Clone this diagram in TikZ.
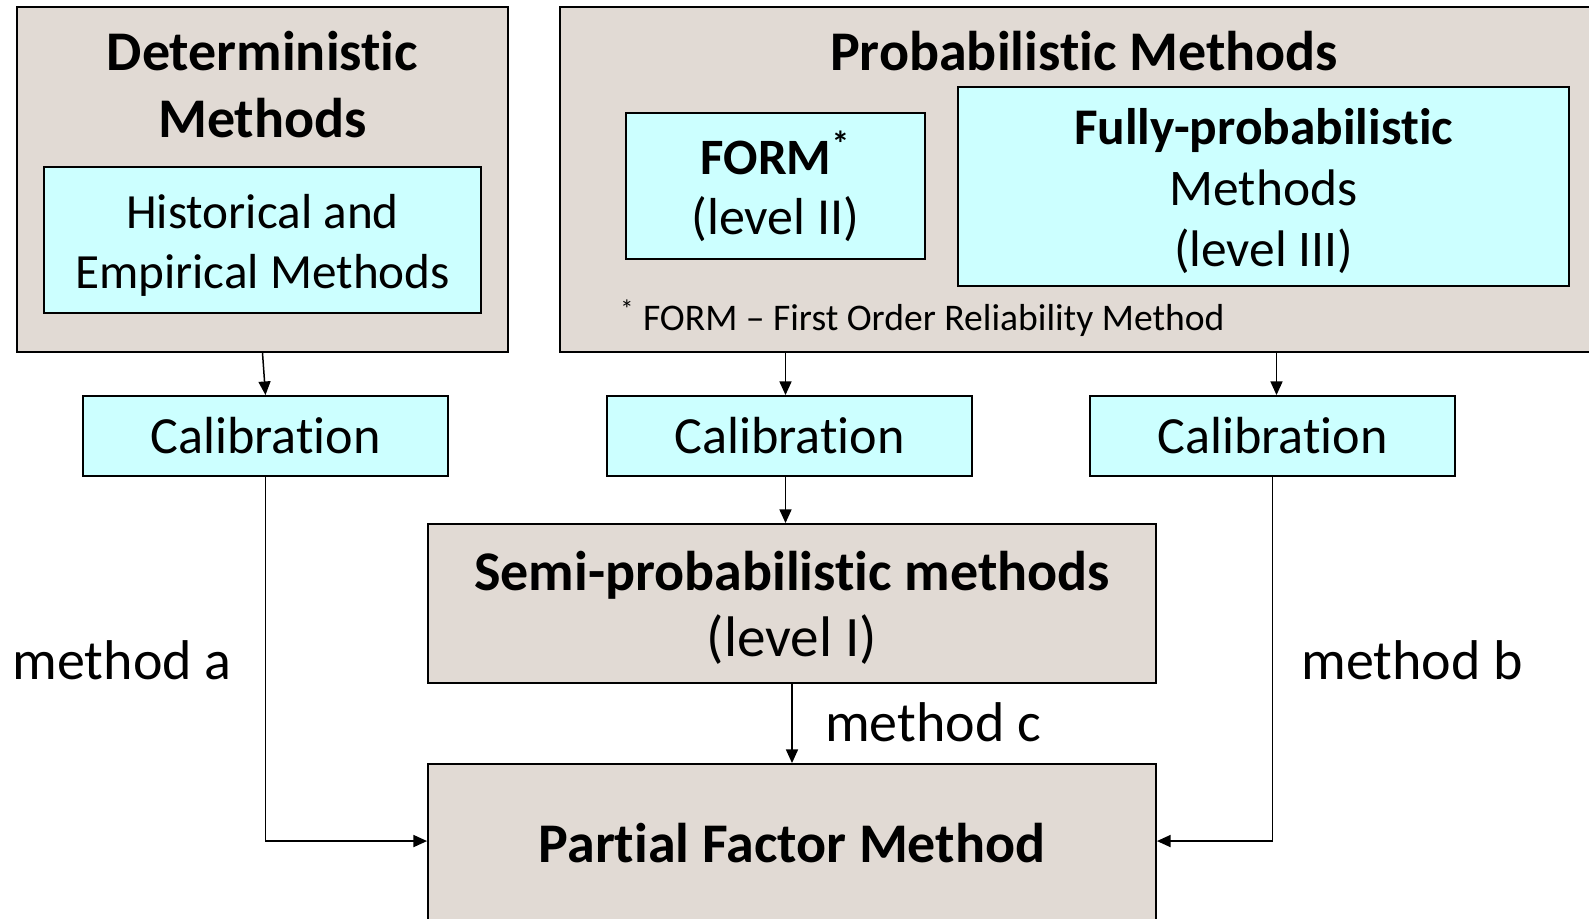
\documentclass[tikz,border=0pt]{standalone}
\usepackage{fontspec}
\setmainfont{Carlito}[RawFeature={-liga;-clig;-calt;-dlig}]
\usetikzlibrary{arrows.meta,calc}
\definecolor{beige}{RGB}{225,218,212}
\definecolor{lcyan}{RGB}{204,255,255}
\newcommand\fsz[2]{\fontsize{#1}{#2}\selectfont}
\begin{document}
\begin{tikzpicture}[x=0.5pt,y=-0.5pt,
  outer/.style={draw=black,line width=0.95pt,fill=beige,inner sep=0pt},
  inbox/.style={draw=black,line width=0.95pt,fill=lcyan,inner sep=0pt},
  calib/.style={inbox,minimum width=182.5pt,minimum height=40pt,font=\fsz{26.1}{30}},
  txt/.style={align=center,inner sep=0pt},
  ttl/.style={txt,font=\fsz{28}{33.5}\bfseries},
  lbl/.style={inner sep=0pt,font=\fsz{28}{33}},
  arr/.style={-{Triangle[length=6.8pt,width=6pt]},line width=0.75pt}]
\clip (0,0) rectangle (1589,919);
\fill[white] (0,0) rectangle (1589,919);
% deterministic
\node[outer,minimum width=245.5pt,minimum height=172.5pt] (det) at (262.5,179.5) {};
\node[ttl] (dett) at (262.5,84.5) {Deterministic\\Methods};
\node[inbox,minimum width=218.5pt,minimum height=73pt] (hist) at (262.5,240) {};
\node[txt,font=\fsz{24.6}{30}] (histt) at (262.5,245) {Historical and\\Empirical Methods};
% probabilistic
\node[outer,minimum width=520pt,minimum height=172.5pt] (prob) at (1080,179.5) {};
\node[ttl] (probt) at (1084,51) {Probabilistic Methods};
\node[inbox,minimum width=149.5pt,minimum height=73pt] (form) at (775.5,186) {};
\node[txt,font=\fsz{25.5}{30}] (formt) at (775.5,186) {\textbf{FORM}\textsuperscript{\textbf{*}}\\{\fontsize{26}{30}\selectfont(level II)}};
\node[inbox,minimum width=305.5pt,minimum height=99.5pt] (fully) at (1263.5,186.5) {};
\node[txt,font=\fsz{25.7}{30.5}] (fullyt) at (1263.5,191.5) {\textbf{Fully-probabilistic}\\Methods\\(level III)};
\node[anchor=west,inner sep=0pt,font=\fsz{18.8}{22}] (fn) at (620,318) {\textsuperscript{*} FORM – First Order Reliability Method};
% calibrations
\node[calib] (cal1) at (265.5,436) {Calibration};
\node[calib] (cal2) at (789.5,436) {Calibration};
\node[calib] (cal3) at (1272.5,436) {Calibration};
% semi and partial
\node[outer,minimum width=364pt,minimum height=79.5pt] (semi) at (792,603.5) {};
\node[txt,font=\fsz{28}{33}] (semit) at (792,607.5) {\textbf{Semi-probabilistic methods}\\{\fontsize{28.6}{33}\selectfont(level I)}};
\node[outer,minimum width=364pt,minimum height=83pt] (partial) at (792,847) {};
\node[txt,font=\fsz{28}{33}\bfseries] (partialt) at (792,843) {Partial Factor Method};
% labels
\node[lbl] (ma) at (122,660) {method a};
\node[lbl] (mb) at (1412,660) {method b};
\node[lbl] (mc) at (933,722) {method c};
% arrows
\draw[arr] (det.south) -- (cal1.north);
\draw[arr] ($(prob.south -| cal2.north)+(-4,0)$) -- ($(cal2.north)+(-4,0)$);
\draw[arr] ($(prob.south -| cal3.north)+(4,0)$) -- ($(cal3.north)+(4,0)$);
\draw[arr] ($(cal2.south)+(-4,0)$) -- ($(cal2.south |- semi.north)+(-4,0)$);
\draw[arr] (semi.south) -- (partial.north);
\draw[arr] (cal1.south) |- ($(partial.north west)+(0,78)$);
\draw[arr] (cal3.south) |- ($(partial.north east)+(0,78)$);
\end{tikzpicture}
\end{document}
